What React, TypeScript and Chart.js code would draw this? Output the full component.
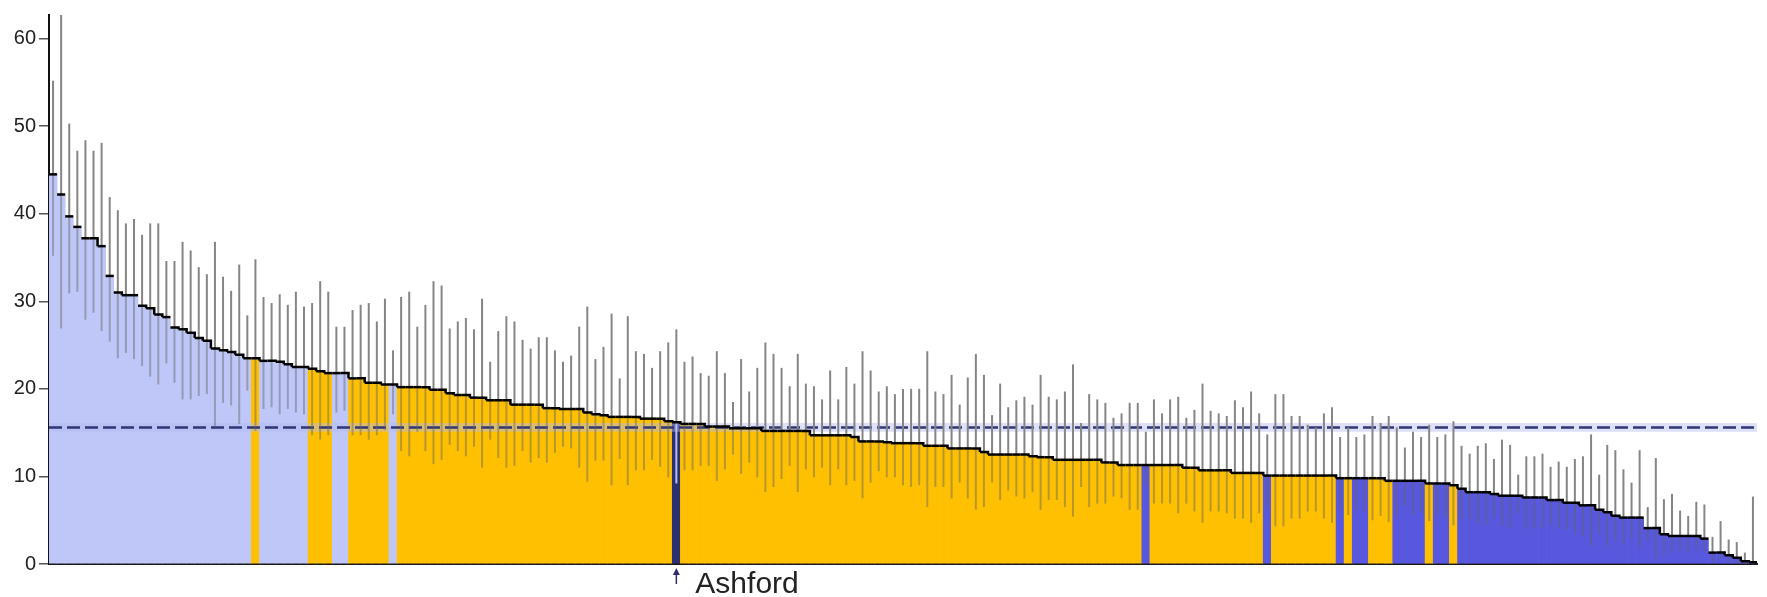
import React, { useEffect, useRef } from "react";
import { Chart, registerables } from "chart.js";

Chart.register(...registerables);

// ---- data ----
const rates = [
  44.5, 42.2, 39.7, 38.5, 37.2, 37.2, 36.3, 32.9, 31.0, 30.7,
  30.7, 29.5, 29.2, 28.5, 28.2, 27.0, 26.8, 26.4, 25.8, 25.5,
  24.6, 24.4, 24.2, 23.9, 23.5, 23.5, 23.2, 23.2, 23.1, 22.8,
  22.5, 22.5, 22.3, 22.0, 21.8, 21.8, 21.8, 21.2, 21.2, 20.7,
  20.7, 20.5, 20.5, 20.2, 20.2, 20.2, 20.2, 19.9, 19.9, 19.5,
  19.3, 19.3, 19.0, 19.0, 18.7, 18.7, 18.7, 18.2, 18.2, 18.2,
  18.2, 17.8, 17.8, 17.7, 17.7, 17.7, 17.3, 17.1, 17.0, 16.8,
  16.8, 16.8, 16.8, 16.6, 16.6, 16.6, 16.3, 16.2, 16.0, 16.0,
  16.0, 15.7, 15.7, 15.7, 15.5, 15.5, 15.5, 15.5, 15.2, 15.2,
  15.2, 15.2, 15.2, 15.2, 14.7, 14.7, 14.7, 14.7, 14.7, 14.5,
  14.0, 14.0, 14.0, 13.9, 13.8, 13.8, 13.8, 13.8, 13.5, 13.5,
  13.5, 13.2, 13.2, 13.2, 13.2, 12.8, 12.5, 12.5, 12.5, 12.5,
  12.5, 12.3, 12.2, 12.2, 11.9, 11.9, 11.9, 11.9, 11.9, 11.9,
  11.6, 11.6, 11.3, 11.3, 11.3, 11.3, 11.3, 11.3, 11.3, 11.3,
  11.0, 11.0, 10.7, 10.7, 10.7, 10.7, 10.4, 10.4, 10.4, 10.4,
  10.1, 10.1, 10.1, 10.1, 10.1, 10.1, 10.1, 10.1, 10.1, 9.8,
  9.8, 9.8, 9.8, 9.8, 9.8, 9.5, 9.5, 9.5, 9.5, 9.5,
  9.2, 9.2, 9.2, 9.0, 8.6, 8.2, 8.2, 8.2, 8.0, 7.8,
  7.8, 7.8, 7.6, 7.6, 7.6, 7.3, 7.3, 7.0, 7.0, 6.7,
  6.7, 6.2, 5.9, 5.5, 5.3, 5.3, 5.3, 4.1, 4.1, 3.4,
  3.2, 3.2, 3.2, 3.2, 2.9, 1.3, 1.3, 1.0, 0.7, 0.3,
  0.2,
];

const upperLimits = [
  55.2, 66.0, 50.3, 47.2, 48.4, 47.2, 48.1, 41.9, 40.4, 38.9,
  39.4, 37.6, 38.9, 38.9, 34.6, 34.6, 36.8, 35.8, 33.9, 33.1,
  36.8, 32.8, 31.2, 34.2, 28.4, 34.8, 30.5, 29.8, 30.8, 29.6,
  31.1, 29.4, 29.8, 32.3, 31.1, 27.1, 27.1, 29.0, 29.6, 29.8,
  27.7, 30.3, 24.4, 30.5, 31.1, 27.1, 29.6, 32.3, 31.8, 26.9,
  27.7, 28.1, 26.8, 30.3, 23.1, 26.6, 28.3, 27.7, 25.6, 24.6,
  25.9, 25.9, 24.4, 23.1, 23.8, 27.1, 29.4, 23.4, 24.8, 28.6,
  21.2, 28.3, 24.3, 24.0, 22.4, 24.3, 25.3, 26.8, 23.1, 23.7,
  21.8, 21.5, 24.3, 21.8, 18.5, 23.4, 19.7, 22.4, 25.3, 24.0,
  22.4, 20.3, 24.0, 20.6, 20.3, 18.8, 22.1, 18.8, 22.5, 20.6,
  24.3, 22.1, 19.7, 20.3, 19.4, 20.0, 20.0, 20.0, 24.3, 19.7,
  19.4, 21.6, 18.2, 21.3, 24.0, 21.6, 17.0, 20.6, 17.9, 18.7,
  19.1, 18.2, 21.6, 19.1, 18.8, 19.7, 22.8, 16.1, 19.4, 18.8,
  18.4, 16.7, 17.2, 18.4, 18.4, 15.1, 18.8, 17.2, 18.8, 19.1,
  16.7, 17.6, 20.6, 17.5, 17.2, 16.9, 18.7, 17.9, 19.7, 17.2,
  14.8, 19.4, 19.4, 16.9, 16.9, 15.9, 15.6, 17.2, 17.9, 14.5,
  15.6, 14.5, 14.8, 16.9, 16.1, 16.9, 15.6, 13.3, 15.1, 14.5,
  15.9, 14.5, 14.8, 16.3, 13.5, 12.6, 13.5, 13.8, 12.0, 14.2,
  13.6, 10.2, 12.3, 12.3, 12.6, 11.1, 11.7, 11.1, 12.0, 12.3,
  14.8, 10.2, 13.6, 13.0, 10.8, 9.3, 13.0, 6.5, 12.1, 7.4,
  8.0, 6.1, 5.5, 7.1, 6.8, 3.1, 4.9, 2.8, 2.5, 1.3,
  7.7,
];

const lowerLimits = [
  35.2, 26.9, 30.9, 31.1, 27.9, 28.7, 26.6, 25.4, 23.5, 24.1,
  23.4, 22.6, 21.4, 20.5, 22.9, 20.7, 18.8, 18.8, 19.2, 19.4,
  15.7, 18.4, 18.1, 16.0, 19.8, 15.2, 17.7, 17.9, 17.1, 17.7,
  17.3, 17.1, 14.7, 14.2, 14.7, 17.3, 17.5, 14.7, 14.7, 14.2,
  14.7, 15.3, 17.1, 12.9, 12.3, 15.1, 12.9, 11.4, 11.9, 13.6,
  12.9, 12.3, 13.4, 11.0, 14.2, 12.1, 11.0, 11.2, 12.9, 11.6,
  12.1, 11.6, 12.7, 13.4, 13.2, 11.0, 9.4, 11.8, 11.8, 9.0,
  12.0, 9.0, 10.7, 10.7, 11.9, 11.1, 9.9, 9.2, 10.7, 10.7,
  11.2, 11.2, 9.5, 10.8, 12.5, 10.3, 11.6, 9.9, 8.2, 8.8,
  9.7, 11.2, 8.2, 10.8, 9.9, 11.0, 9.0, 10.8, 9.0, 9.5,
  7.5, 9.3, 10.6, 9.9, 9.9, 9.0, 8.8, 9.0, 6.5, 8.8,
  8.8, 7.5, 9.3, 7.5, 6.2, 6.5, 9.3, 7.3, 8.4, 7.7,
  7.5, 8.2, 6.2, 7.3, 7.3, 6.5, 5.4, 8.8, 6.5, 6.9,
  6.9, 7.7, 7.5, 6.2, 6.2, 9.0, 6.9, 6.9, 6.9, 5.8,
  6.9, 6.0, 4.7, 6.0, 6.0, 5.8, 5.2, 5.2, 4.7, 5.8,
  6.5, 4.3, 4.3, 5.2, 5.2, 6.0, 6.0, 5.2, 4.7, 6.2,
  5.6, 6.2, 6.0, 5.0, 5.5, 4.8, 5.4, 6.6, 5.6, 5.9,
  4.9, 5.6, 5.4, 4.4, 5.2, 5.1, 4.7, 4.5, 5.2, 4.3,
  4.1, 5.8, 4.1, 4.1, 4.1, 4.5, 4.1, 3.9, 3.6, 3.2,
  2.1, 3.4, 1.9, 2.6, 2.3, 3.0, 1.7, 2.6, 0.6, 1.0,
  1.3, 1.5, 1.3, 1.5, 1.3, 0.2, 0.6, 0.2, 0.05, 0,
  0,
];

// significance group of each bar, as runs in bar order
const groupRuns: [string, number][] = [
  ["above", 25], ["similar", 1], ["above", 6], ["similar", 3], ["above", 2],
  ["similar", 5], ["above", 1], ["similar", 34], ["selected", 1], ["similar", 57],
  ["below", 1], ["similar", 14], ["below", 1], ["similar", 8], ["below", 1],
  ["similar", 1], ["below", 2], ["similar", 3], ["below", 4], ["similar", 1],
  ["below", 2], ["similar", 1], ["below", 37],
];

const highlightIndex = 77;
const highlightName = "Ashford";
const averageRate = 15.6;
const averageBandLow = 15.1;
const averageBandHigh = 16.1;
const yTickValues = [0, 10, 20, 30, 40, 50, 60];
const yMax = 62.7;

const groups: string[] = groupRuns.flatMap(([g, n]) => Array(n).fill(g));
const categories = rates.map((_, i) => (i === highlightIndex ? highlightName : `Area ${i + 1}`));

const groupColors: Record<string, string> = {
  above: "#BEC7F8",
  similar: "#FEC000",
  below: "#5858DF",
  selected: "#2C306E",
};

const overlayPlugin = {
  id: "overlay",
  afterDatasetsDraw(chart: any) {
    const { ctx, chartArea, scales } = chart;
    const x = scales.x;
    const y = scales.y;
    const n = rates.length;
    const bw = (chartArea.right - chartArea.left) / n;
    ctx.save();

    // average band + dashed line
    const bTop = y.getPixelForValue(averageBandHigh);
    const bBot = y.getPixelForValue(averageBandLow);
    ctx.fillStyle = "rgba(180,186,240,0.45)";
    ctx.fillRect(chartArea.left, bTop, chartArea.right - chartArea.left, bBot - bTop);
    const ya = y.getPixelForValue(averageRate);
    ctx.strokeStyle = "#2F3575";
    ctx.lineWidth = 2.5;
    ctx.setLineDash([13, 5]);
    ctx.beginPath();
    ctx.moveTo(chartArea.left, ya);
    ctx.lineTo(chartArea.right, ya);
    ctx.stroke();
    ctx.setLineDash([]);

    // error bars
    ctx.lineWidth = 2;
    for (let i = 0; i < n; i++) {
      const cx = x.getPixelForValue(i);
      const yTop = y.getPixelForValue(Math.min(upperLimits[i], yMax));
      const yBot = y.getPixelForValue(lowerLimits[i]);
      const yVal = y.getPixelForValue(rates[i]);
      if (yTop < yVal) {
        ctx.strokeStyle = "#858585";
        ctx.beginPath();
        ctx.moveTo(cx, yTop);
        ctx.lineTo(cx, yVal);
        ctx.stroke();
      }
      if (yBot > yVal) {
        ctx.strokeStyle = i === highlightIndex ? "rgba(185,198,245,0.95)" : "rgba(100,100,100,0.45)";
        ctx.beginPath();
        ctx.moveTo(cx, yVal);
        ctx.lineTo(cx, yBot);
        ctx.stroke();
      }
    }

    // step marks along the bar tops (joined only where the drop is small)
    ctx.strokeStyle = "#000000";
    ctx.lineWidth = 2.5;
    ctx.lineCap = "butt";
    for (let i = 0; i < n; i++) {
      const cx = x.getPixelForValue(i);
      const yv = y.getPixelForValue(rates[i]);
      ctx.beginPath();
      ctx.moveTo(cx - bw / 2, yv);
      ctx.lineTo(cx + bw / 2, yv);
      if (i + 1 < n) {
        const yn = y.getPixelForValue(rates[i + 1]);
        if (yn - yv < 8) ctx.lineTo(cx + bw / 2, yn);
      }
      ctx.stroke();
    }
    ctx.restore();
  },
  afterDraw(chart: any) {
    const { ctx, chartArea, scales } = chart;
    const cx = scales.x.getPixelForValue(highlightIndex);
    const top = chartArea.bottom + 4;
    ctx.save();
    ctx.strokeStyle = "#2C306E";
    ctx.fillStyle = "#2C306E";
    ctx.lineWidth = 1.5;
    ctx.beginPath();
    ctx.moveTo(cx, top + 2);
    ctx.lineTo(cx, top + 16);
    ctx.stroke();
    ctx.beginPath();
    ctx.moveTo(cx, top);
    ctx.lineTo(cx - 3.5, top + 7);
    ctx.lineTo(cx + 3.5, top + 7);
    ctx.closePath();
    ctx.fill();
    ctx.fillStyle = "#222222";
    ctx.font = "30px 'Liberation Sans', Arial, sans-serif";
    ctx.textAlign = "left";
    ctx.textBaseline = "alphabetic";
    ctx.fillText(highlightName, cx + 19, 593);
    ctx.restore();
  },
};

export default function App() {
  const ref = useRef<HTMLCanvasElement | null>(null);

  useEffect(() => {
    if (!ref.current) return;
    const chart = new Chart(ref.current, {
      type: "bar",
      data: {
        labels: categories,
        datasets: [
          {
            data: rates,
            backgroundColor: groups.map((g) => groupColors[g]),
            borderWidth: 0,
            barPercentage: 1,
            categoryPercentage: 1,
          },
        ],
      },
      options: {
        responsive: false,
        animation: false,
        devicePixelRatio: 1,
        layout: { padding: { top: 9, right: 10, left: 0, bottom: 0 } },
        plugins: {
          legend: { display: false },
          tooltip: { enabled: false },
        },
        scales: {
          x: {
            type: "category",
            z: 1,
            offset: true,
            grid: { display: false },
            ticks: { display: false },
            border: { display: true, color: "#1a1a1a", width: 2 },
            afterFit: (scale: any) => {
              scale.height = 33;
            },
          },
          y: {
            type: "linear",
            z: 1,
            min: 0,
            max: yMax,
            afterBuildTicks: (scale: any) => {
              scale.ticks = yTickValues.map((v) => ({ value: v }));
            },
            grid: {
              display: true,
              drawOnChartArea: false,
              drawTicks: true,
              tickLength: 10,
              color: "#555555",
              lineWidth: 1.5,
            },
            border: { display: true, color: "#111111", width: 2 },
            ticks: {
              padding: 3,
              color: "#222222",
              font: { size: 20, family: "'Liberation Sans', Arial, sans-serif" },
            },
            afterFit: (scale: any) => {
              scale.width = 49;
            },
          },
        },
      },
      plugins: [overlayPlugin],
    });
    return () => chart.destroy();
  }, []);

  return (
    <div style={{ position: "absolute", left: 0, top: 0, width: 1767, height: 597, background: "#ffffff" }}>
      <canvas ref={ref} width={1767} height={597} style={{ width: 1767, height: 597, display: "block" }} />
    </div>
  );
}
